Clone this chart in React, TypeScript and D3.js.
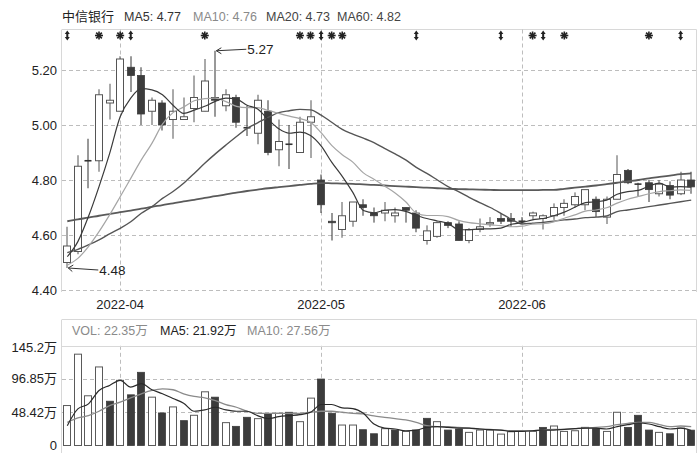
import React from 'react';
import * as d3 from 'd3';

const dates = [
  '2022-03-25','2022-03-28','2022-03-29','2022-03-30','2022-03-31',
  '2022-04-01','2022-04-06','2022-04-07','2022-04-08','2022-04-11','2022-04-12','2022-04-13','2022-04-14','2022-04-15',
  '2022-04-18','2022-04-19','2022-04-20','2022-04-21','2022-04-22','2022-04-25','2022-04-26','2022-04-27','2022-04-28','2022-04-29',
  '2022-05-05','2022-05-06','2022-05-09','2022-05-10','2022-05-11','2022-05-12','2022-05-13','2022-05-16','2022-05-17','2022-05-18',
  '2022-05-19','2022-05-20','2022-05-23','2022-05-24','2022-05-25','2022-05-26','2022-05-27','2022-05-30','2022-05-31',
  '2022-06-01','2022-06-02','2022-06-06','2022-06-07','2022-06-08','2022-06-09','2022-06-10','2022-06-13','2022-06-14',
  '2022-06-15','2022-06-16','2022-06-17','2022-06-20','2022-06-21','2022-06-22','2022-06-23','2022-06-24',
];

const opens = [4.50,4.54,4.87,4.87,5.08,5.05,5.21,5.18,5.05,5.08,5.02,5.02,5.06,5.05,5.10,5.07,5.10,4.99,4.97,5.05,
  4.91,4.93,4.90,5.01,4.80,4.65,4.62,4.65,4.71,4.68,4.68,4.67,4.70,4.68,4.58,4.595,4.645,4.64,4.58,4.62,
  4.64,4.66,4.66,4.65,4.67,4.66,4.67,4.70,4.71,4.71,4.73,4.665,4.73,4.835,4.785,4.79,4.75,4.78,4.75,4.80];
const highs = [4.63,4.89,4.95,5.13,5.15,5.25,5.25,5.21,5.10,5.09,5.13,5.10,5.18,5.24,5.27,5.13,5.11,5.07,5.11,5.09,
  5.02,5.00,5.03,5.09,4.82,4.68,4.72,4.72,4.73,4.70,4.72,4.70,4.70,4.69,4.635,4.65,4.65,4.65,4.625,4.66,
  4.665,4.68,4.68,4.665,4.685,4.675,4.715,4.73,4.755,4.765,4.74,4.74,4.89,4.84,4.79,4.80,4.80,4.795,4.83,4.83];
const lows = [4.48,4.53,4.77,4.83,5.02,5.05,5.12,5.00,5.00,4.98,4.95,5.02,5.01,5.05,5.03,5.05,4.99,4.96,4.93,4.89,
  4.85,4.84,4.90,4.88,4.68,4.58,4.59,4.63,4.67,4.645,4.65,4.645,4.645,4.61,4.565,4.59,4.625,4.58,4.57,4.61,
  4.63,4.64,4.63,4.64,4.655,4.62,4.655,4.67,4.70,4.69,4.665,4.64,4.73,4.785,4.74,4.72,4.74,4.73,4.745,4.75];
const closes = [4.56,4.85,4.87,5.11,5.09,5.24,5.18,5.04,5.09,5.00,5.05,5.03,5.10,5.16,5.09,5.11,5.01,4.99,5.09,4.90,
  4.94,4.93,5.01,5.03,4.71,4.645,4.67,4.72,4.70,4.67,4.69,4.68,4.69,4.625,4.615,4.645,4.635,4.58,4.62,4.63,
  4.645,4.65,4.65,4.65,4.68,4.67,4.70,4.715,4.74,4.765,4.685,4.73,4.82,4.79,4.785,4.765,4.785,4.745,4.80,4.775];

// volume in 万
const volumes = [58.2,133.0,72.4,114.4,64.5,94.9,73.8,106.6,70.4,47.4,56.2,36.2,44.0,78.2,70.4,33.3,27.9,41.1,39.1,46.0,
  46.9,48.4,34.7,69.0,96.8,46.9,29.8,29.8,23.0,17.1,24.5,22.5,20.5,22.5,39.6,34.7,22.5,24.0,19.1,22.5,
  22.5,16.6,20.0,20.5,20.5,26.4,28.4,20.5,21.5,26.4,24.5,20.5,48.4,26.4,44.0,22.5,19.1,17.1,25.4,22.35];

const ma5 = [4.521,4.576,4.667,4.776,4.896,5.03,5.098,5.132,5.128,5.11,5.072,5.042,5.054,5.068,5.086,5.098,5.094,5.072,5.058,5.02,
  4.986,4.97,4.974,4.962,4.924,4.865,4.813,4.755,4.689,4.681,4.69,4.692,4.686,4.671,4.66,4.651,4.642,4.62,4.619,4.622,
  4.622,4.625,4.639,4.645,4.655,4.66,4.67,4.683,4.701,4.718,4.721,4.727,4.748,4.758,4.762,4.778,4.789,4.774,4.776,4.774];
const ma10 = [4.49,4.515,4.558,4.612,4.673,4.739,4.806,4.873,4.933,5.003,5.045,5.065,5.088,5.096,5.098,5.085,5.068,5.063,5.063,5.053,
  5.042,5.032,5.023,5.01,4.972,4.926,4.892,4.865,4.826,4.803,4.778,4.753,4.721,4.68,4.671,4.671,4.667,4.653,4.645,4.641,
  4.637,4.634,4.63,4.632,4.639,4.641,4.648,4.661,4.673,4.687,4.691,4.699,4.716,4.73,4.74,4.75,4.758,4.761,4.764,4.762];
const ma20 = [4.536,4.548,4.564,4.582,4.604,4.624,4.648,4.679,4.703,4.733,4.758,4.788,4.824,4.861,4.895,4.927,4.958,4.988,5.008,5.028,
  5.045,5.052,5.057,5.055,5.036,5.010,4.984,4.967,4.952,4.936,4.915,4.895,4.873,4.846,4.824,4.80,4.776,4.758,4.737,4.718,
  4.70,4.679,4.657,4.640,4.643,4.646,4.650,4.655,4.658,4.663,4.665,4.669,4.685,4.691,4.697,4.703,4.709,4.715,4.721,4.727];
const ma60 = [4.650,4.657,4.663,4.670,4.676,4.683,4.689,4.696,4.702,4.709,4.715,4.722,4.728,4.735,4.741,4.748,4.754,4.760,4.765,4.770,
  4.774,4.778,4.782,4.786,4.789,4.788,4.787,4.786,4.784,4.782,4.780,4.778,4.776,4.774,4.772,4.770,4.768,4.767,4.766,4.765,
  4.764,4.763,4.763,4.763,4.763,4.764,4.764,4.768,4.772,4.776,4.780,4.785,4.790,4.795,4.800,4.806,4.811,4.816,4.821,4.824];

const volMa5 = [28.9,53.3,60.6,80.2,87.5,94.9,85.1,90.0,81.2,75.3,68.5,61.5,49.9,51.8,55.7,51.8,49.9,49.9,43.5,39.0,
  42.0,43.5,45.0,48.4,59.7,59.7,54.8,53.8,46.9,31.3,25.4,24.0,21.5,22.5,26.4,27.4,26.4,25.4,25.4,24.0,
  23.0,22.5,20.5,20.5,21.5,22.5,22.5,23.5,24.5,25.4,25.4,24.0,27.4,30.3,32.8,31.3,27.4,24.0,25.4,21.92];
const volMa10 = [33.7,40.1,43.5,49.9,58.2,63.1,69.4,75.3,80.2,82.6,81.2,75.3,71.4,69.4,65.5,59.7,55.7,49.9,46.9,46.9,
  46.9,46.9,46.9,48.4,49.9,49.9,48.4,46.9,46.0,43.0,41.1,39.1,37.2,33.7,28.9,27.4,27.4,26.4,25.4,24.0,
  23.5,22.5,21.5,21.5,21.5,22.5,23.5,23.5,24.5,25.4,26.4,27.4,30.3,32.3,33.7,33.7,30.3,27.4,28.4,27.56];

const priceTicks = [4.4, 4.6, 4.8, 5.0, 5.2];
const volTicks = [0, 48.42, 96.85, 145.2];
const volTickLabels = ['0', '48.42万', '96.85万', '145.2万'];
const monthLabels = ['2022-04', '2022-05', '2022-06'];
const starMarks = [3, 5, 13, 22, 23, 25, 26, 44, 47, 55];
const arrowMarks = [0, 6, 24, 33, 41, 45, 58];
const stockName = '中信银行';

const FONT = "'Liberation Sans', Arial, 'Noto Sans CJK SC', sans-serif";

export default function App() {
  const W = 700, H = 453;
  const L = 62, R = 696.5;
  const n = dates.length;
  const x = d3.scaleBand<number>().domain(d3.range(n)).range([L, R]).paddingInner(0.34).paddingOuter(0.17);
  const cx = (i: number) => (x(i) as number) + x.bandwidth() / 2;
  const yP = d3.scaleLinear().domain([4.4, 5.2]).range([290, 70]);
  const yV = d3.scaleLinear().domain([0, 145.2]).range([445.5, 345.8]);
  const bw = 7;

  const pLine = d3.line<number>().x((_, i) => cx(i)).y(d => yP(d)).curve(d3.curveMonotoneX);
  const vLine = d3.line<number>().x((_, i) => cx(i)).y(d => yV(d)).curve(d3.curveMonotoneX);

  const monthIdx = monthLabels.map(m => dates.findIndex(d => d.startsWith(m)));
  const volUp = (i: number) => (i === 0 ? closes[0] >= opens[0] : closes[i] >= closes[i - 1]);

  const hiIdx = d3.maxIndex(highs);
  const loIdx = d3.minIndex(lows);
  const last = n - 1;

  const px = (v: number) => Math.round(v) + 0.5;

  return (
    <svg width={W} height={H} style={{ position: 'absolute', left: 0, top: 0, background: '#fff' }} fontFamily={FONT}>
      <rect x={0} y={0} width={W} height={H} fill="#fff" />
      {/* header */}
      <text x={62} y={21} fontSize={13} fill="#222">{stockName}</text>
      <text x={124} y={21} fontSize={12.5} fill="#333">{`MA5: ${ma5[last].toFixed(2)}`}</text>
      <text x={193} y={21} fontSize={12.5} fill="#8a8a8a">{`MA10: ${ma10[last].toFixed(2)}`}</text>
      <text x={266} y={21} fontSize={12.5} fill="#444">{`MA20: ${ma20[last].toFixed(2)}`}</text>
      <text x={337} y={21} fontSize={12.5} fill="#444">{`MA60: ${ma60[last].toFixed(2)}`}</text>

      {/* price panel frame */}
      <line x1={L} x2={R} y1={29.5} y2={29.5} stroke="#d8d8d8" />
      <line x1={L - 0.5} x2={L - 0.5} y1={29.5} y2={292} stroke="#d8d8d8" />
      <line x1={R} x2={R} y1={29.5} y2={292} stroke="#d8d8d8" />
      {priceTicks.map(t => (
        <g key={t}>
          <line x1={L} x2={R} y1={px(yP(t))} y2={px(yP(t))} stroke="#bdbdbd" strokeDasharray="4,3" />
          <text x={57} y={yP(t) + 4.5} fontSize={13} fill="#222" textAnchor="end">{t.toFixed(2)}</text>
        </g>
      ))}
      {monthIdx.map((mi, k) => (
        <g key={k}>
          <line x1={px(cx(mi))} x2={px(cx(mi))} y1={29.5} y2={290} stroke="#bdbdbd" strokeDasharray="4,3" />
          <line x1={px(cx(mi))} x2={px(cx(mi))} y1={345.8} y2={446} stroke="#bdbdbd" strokeDasharray="4,3" />
          <text x={cx(mi)} y={309} fontSize={13} fill="#222" textAnchor="middle">{monthLabels[k]}</text>
        </g>
      ))}

      {/* marker row */}
      {starMarks.map(i => {
        const c = cx(i), y0 = 35.5, r = 4;
        return (
          <g key={'s' + i} stroke="#222" strokeWidth={1.6}>
            {[0, 45, 90, 135].map(a => {
              const rad = (a * Math.PI) / 180;
              return <line key={a} x1={c - r * Math.cos(rad)} y1={y0 - r * Math.sin(rad)} x2={c + r * Math.cos(rad)} y2={y0 + r * Math.sin(rad)} />;
            })}
          </g>
        );
      })}
      {arrowMarks.map(i => {
        const c = cx(i), y0 = 35.5;
        return (
          <path key={'a' + i} fill="#222"
            d={`M${c},${y0 - 5} L${c + 2.5},${y0 - 1.5} L${c + 1},${y0 - 1.5} L${c + 1},${y0 + 1.5} L${c + 2.5},${y0 + 1.5} L${c},${y0 + 5} L${c - 2.5},${y0 + 1.5} L${c - 1},${y0 + 1.5} L${c - 1},${y0 - 1.5} L${c - 2.5},${y0 - 1.5} Z`} />
        );
      })}

      {/* candles */}
      {dates.map((_, i) => {
        const c = Math.round(cx(i));
        const o = opens[i], cl = closes[i];
        const up = cl > o;
        const doji = Math.abs(cl - o) < 1e-9;
        const top = yP(Math.max(o, cl));
        const bot = yP(Math.min(o, cl));
        const bx = c - Math.floor(bw / 2) - 0.5;
        return (
          <g key={'c' + i}>
            <line x1={c} x2={c} y1={yP(highs[i])} y2={yP(lows[i])} stroke={up ? '#555' : '#333'} strokeWidth={1} />
            {doji ? (
              <line x1={bx} x2={bx + bw} y1={top} y2={top} stroke="#333" strokeWidth={1.6} />
            ) : up ? (
              <rect x={bx} y={top} width={bw} height={Math.max(1, bot - top)} fill="#fff" stroke="#555" strokeWidth={1} />
            ) : (
              <rect x={bx} y={top} width={bw} height={Math.max(1.5, bot - top)} fill="#3c3c3c" stroke="#3c3c3c" strokeWidth={0.8} />
            )}
          </g>
        );
      })}

      {/* price MA lines */}
      <path d={pLine(ma60) || ''} fill="none" stroke="#5a5a5a" strokeWidth={1.8} />
      <path d={pLine(ma20) || ''} fill="none" stroke="#555" strokeWidth={1.4} />
      <path d={pLine(ma10) || ''} fill="none" stroke="#a5a5a5" strokeWidth={1.2} />
      <path d={pLine(ma5) || ''} fill="none" stroke="#3a3a3a" strokeWidth={1.2} />

      {/* high / low annotations */}
      {(() => {
        const hx = cx(hiIdx), hy = yP(highs[hiIdx]);
        const lx = cx(loIdx), ly = yP(lows[loIdx]);
        return (
          <g stroke="#333" strokeWidth={1} fill="none">
            <line x1={hx + 1} y1={hy} x2={hx + 31} y2={hy - 1.5} />
            <path d={`M${hx + 6},${hy - 3} L${hx + 1},${hy} L${hx + 6},${hy + 3}`} />
            <text x={hx + 32} y={hy + 3.5} fontSize={13.5} fill="#222" stroke="none">{highs[hiIdx].toFixed(2)}</text>
            <line x1={lx + 1} y1={ly} x2={lx + 31} y2={ly + 2} />
            <path d={`M${lx + 6},${ly - 3} L${lx + 1},${ly} L${lx + 5},${ly + 3.5}`} />
            <text x={lx + 32} y={ly + 6.5} fontSize={13.5} fill="#222" stroke="none">{lows[loIdx].toFixed(2)}</text>
          </g>
        );
      })()}

      {/* volume panel */}
      <line x1={L} x2={R} y1={319.5} y2={319.5} stroke="#d8d8d8" />
      <line x1={L - 0.5} x2={L - 0.5} y1={319.5} y2={H} stroke="#d8d8d8" />
      <line x1={R} x2={R} y1={319.5} y2={H} stroke="#d8d8d8" />
      <text x={72} y={335} fontSize={12.5} fill="#8a8a8a">{`VOL: ${volumes[last].toFixed(2)}万`}</text>
      <text x={160} y={335} fontSize={12.5} fill="#222">{`MA5: ${volMa5[last].toFixed(2)}万`}</text>
      <text x={247} y={335} fontSize={12.5} fill="#8a8a8a">{`MA10: ${volMa10[last].toFixed(2)}万`}</text>
      {volTicks.map((t, k) => (
        <g key={'v' + k}>
          {k === volTicks.length - 1 ? (
            <line x1={L} x2={R} y1={px(yV(t))} y2={px(yV(t))} stroke="#d8d8d8" />
          ) : k > 0 ? (
            <line x1={L} x2={R} y1={px(yV(t))} y2={px(yV(t))} stroke="#bdbdbd" strokeDasharray="4,3" />
          ) : null}
          <text x={57} y={yV(t) + 4.5 + (k === 0 ? -0.5 : 0) + (k === volTicks.length - 1 ? 2 : 0)} fontSize={13} fill="#222" textAnchor="end">{volTickLabels[k]}</text>
        </g>
      ))}
      {volumes.map((v, i) => {
        const c = Math.round(cx(i));
        const bx = c - Math.floor(bw / 2) - 0.5;
        const top = yV(v);
        const up = volUp(i);
        return up ? (
          <rect key={'vb' + i} x={bx} y={top} width={bw} height={yV(0) - top} fill="#fff" stroke="#5a5a5a" strokeWidth={1} />
        ) : (
          <rect key={'vb' + i} x={bx} y={top} width={bw} height={yV(0) - top} fill="#3c3c3c" stroke="#3c3c3c" strokeWidth={0.8} />
        );
      })}
      <path d={vLine(volMa10) || ''} fill="none" stroke="#8a8a8a" strokeWidth={1.3} />
      <path d={vLine(volMa5) || ''} fill="none" stroke="#2a2a2a" strokeWidth={1.2} />
    </svg>
  );
}
